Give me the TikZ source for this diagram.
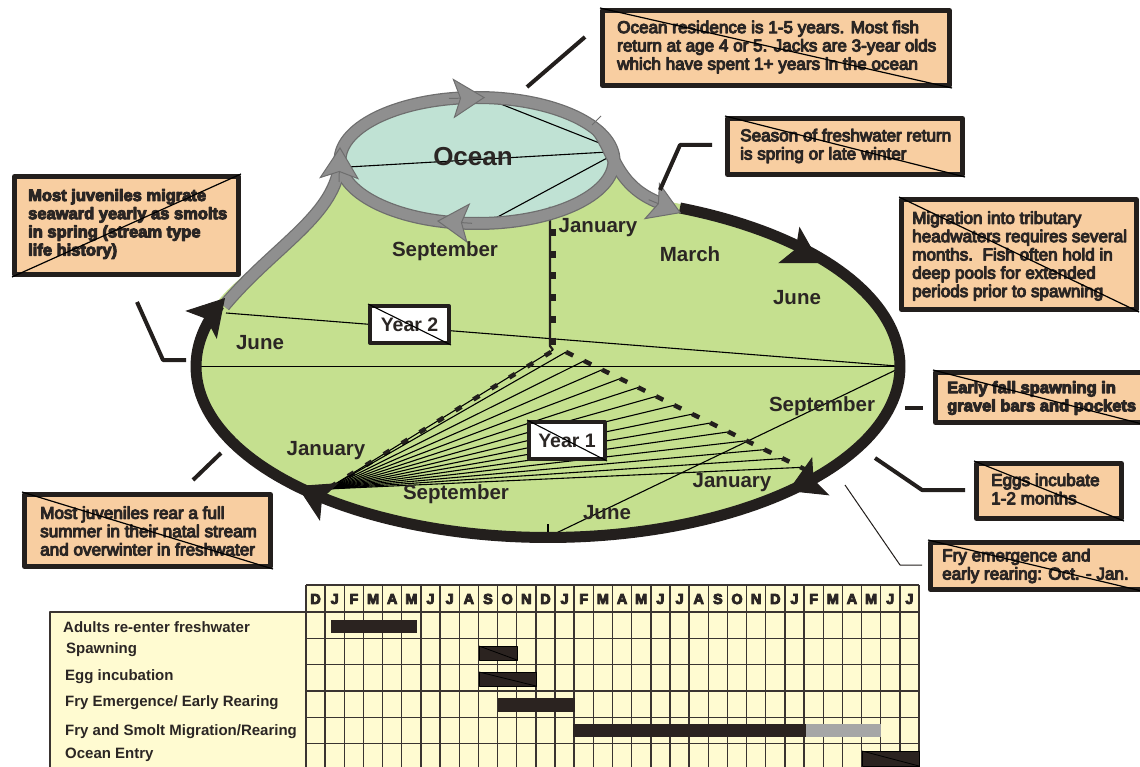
\documentclass[tikz,border=0pt]{standalone}
\usepackage{fontspec}
\setmainfont{Liberation Sans}
\newfontfamily\notefont{Liberation Sans}[FakeBold=6]
\newfontfamily\heavyfont{Liberation Sans Bold}[FakeBold=6]
\usetikzlibrary{arrows.meta}

\definecolor{meadow}{RGB}{197,224,143}
\definecolor{sea}{RGB}{192,226,212}
\definecolor{pathgrey}{RGB}{143,143,143}
\definecolor{pathgreyedge}{RGB}{110,110,110}
\definecolor{ink}{RGB}{35,31,29}
\definecolor{peach}{RGB}{248,206,161}
\definecolor{chart}{RGB}{255,251,209}
\definecolor{textink}{RGB}{43,38,36}
\definecolor{barink}{RGB}{43,35,32}
\definecolor{bargrey}{RGB}{166,166,166}
\definecolor{gridink}{RGB}{58,52,49}

\begin{document}
\begin{tikzpicture}[x=1pt, y=-1pt, line join=round,
  notebox/.style={draw=ink, line width=5pt, fill=peach, inner sep=0pt},
  notetext/.style={anchor=west, inner sep=0pt, align=left, text=textink,
    font=\notefont\fontsize{17.1}{18.3}\selectfont},
  heavytext/.style={notetext, font=\heavyfont\fontsize{16.5}{18.2}\selectfont},
  slash/.style={draw=black, line width=1.2pt},
  leader/.style={draw=ink, line width=4pt},
  thinleader/.style={draw=ink, line width=1pt},
  month/.style={font=\bfseries\fontsize{20.5}{22}\selectfont, text=textink, inner sep=0pt},
  yearbox/.style={draw=ink, line width=4pt, fill=white, inner sep=0pt,
    font=\bfseries\fontsize{19.5}{20}\selectfont, text=textink},
  fine/.style={draw=black, line width=1.1pt},
  ticks/.style={draw=ink, line width=4.5pt},
  blacktip/.style={draw=ink, line width=1pt, -{Stealth[length=36pt,width=42pt,inset=8pt,fill=ink]}},
  greytip/.style={draw=pathgreyedge, line width=1pt, -{Stealth[length=32pt,width=40pt,inset=7pt,fill=pathgrey]}},
  gridline/.style={draw=gridink, line width=1.4pt},
  hdr/.style={font=\heavyfont\fontsize{14.5}{15}\selectfont, text=textink, inner sep=0pt},
  rowlabel/.style={anchor=west, inner sep=0pt, font=\bfseries\fontsize{15}{16}\selectfont, text=textink},
  bar/.style={fill=barink, draw=black, line width=0.8pt}
]
\useasboundingbox (0,0) rectangle (1140,767);

% ---------- freshwater area: big ellipse plus the neck up to the ocean ----------
\fill[meadow] (548,366.5) ellipse [x radius=356pt, y radius=175pt];
\fill[meadow] (224,306) .. controls (275,245) and (337,215) .. (340,160.5)
  -- plot[domain=180:-28, samples=60, variable=\t] ({477+137*cos(\t)}, {160.5+63*sin(\t)})
  .. controls (614,152) and (616,186) .. (678,209) -- (548,366) -- cycle;
\fill[sea] (477,160.5) ellipse [x radius=137pt, y radius=63pt];

% ---------- construction lines ----------
\draw[fine] (483,97) -- (607,146);
\draw[fine] (348,167) -- (608,152);
\draw[fine] (479,227) -- (609,157);
\draw[fine] (478,217) -- (478,227);

\coordinate (rightcorner) at (903,366.5);
\draw[fine] (193,366.5) -- (rightcorner);
\draw[fine] (226,313) -- (rightcorner);
\draw[fine] (548,537) -- (rightcorner);
\draw[fine] (548,524) -- (548,537);

% year 2 divider with tick marks
\draw[draw=ink, line width=2.2pt] (550,207) -- (550,346) -- (553,350);
\draw[ticks, dash pattern=on 7pt off 14.7pt] (553.5,229) -- (553.5,350);

% year 1 fan
\coordinate (apex) at (327,489);
\draw[fine] (553,350) -- (apex);
\draw[ticks, dash pattern=on 7pt off 14pt] (551,352) -- (apex);
\foreach \k in {0,...,13}
  \draw[fine] (apex) -- ({566+18.046*\k},{352+8.877*\k});
\draw[ticks, dash pattern=on 8pt off 12.07pt] (566,352) -- (808.8,471.3);

% ---------- grey ocean loop ----------
\begin{scope}[draw=pathgreyedge, line width=13pt]
  \draw (477,160.5) ellipse [x radius=137pt, y radius=63pt];
  \draw (224,306) .. controls (275,245) and (337,215) .. (340,160.5);
  \draw (598,131) .. controls (614,152) and (616,186) .. (660,203);
\end{scope}
\begin{scope}[draw=pathgrey, line width=10.5pt]
  \draw (477,160.5) ellipse [x radius=137pt, y radius=63pt];
  \draw (224,306) .. controls (275,245) and (337,215) .. (340,160.5);
  \draw (598,131) .. controls (614,152) and (616,186) .. (660,203);
\end{scope}
\draw[pathgreyedge, line width=1pt] (592,125) -- (601,116);

% ---------- freshwater loop ----------
\draw[ink, line width=11pt] plot[domain=-68:201, samples=160, variable=\t]
  ({548+352*cos(\t)}, {366.5+171*sin(\t)});
\draw[blacktip] (789,245) -- (820,263);
\draw[blacktip] (819.0,477.0) -- (788.0,491.0);
\draw[blacktip] (327.5,501.1) -- (297.0,486.0);
\draw[blacktip] (202.4,323.4) -- (225.0,298.0);

\draw[greytip] (449,98.5) -- (485,97.5);
\draw[greytip] (472,223.3) -- (437,221);
\draw[greytip] (339,182) -- (340,147);
\draw[greytip] (648.7,199.7) -- (681,213);

% ---------- labels on the loops ----------
\node[font=\bfseries\fontsize{26}{28}\selectfont, text=textink, inner sep=0pt] (ocean) at (473,157) {Ocean};
\node[month] (janA) at (598,228) {January};
\node[month] (sepA) at (445,251) {September};
\node[month] (marA) at (690,254) {March};
\node[month] (junA) at (797,298) {June};
\node[month] (junB) at (260,343) {June};
\node[month] (sepB) at (822,406) {September};
\node[month] (janB) at (326,451) {January};
\node[month] (sepC) at (456,494) {September};
\node[month] (janC) at (732,483) {January};
\node[month] (junC) at (607,513) {June};

\node[yearbox, minimum width=79pt, minimum height=37pt] (year2) at (409.5,324.5) {Year 2};
\draw[fine] (year2.north west) -- (year2.south east);
\node[yearbox, minimum width=76pt, minimum height=37pt] (year1) at (567,440.5) {Year 1};
\draw[fine] (year1.north west) -- (year1.south east);

% ---------- notes ----------
\node[notebox, minimum width=347pt, minimum height=75pt] (oceannote) at (776,48) {};
\node[notetext] (oceantext) at (617,47) {Ocean residence is 1-5 years. Most fish\\return at age 4 or 5. Jacks are 3-year olds\\which have spent 1+ years in the ocean};
\draw[slash] (oceannote.north west) -- (oceannote.south east);

\node[notebox, minimum width=235pt, minimum height=56pt] (returnnote) at (845,146.5) {};
\node[notetext] (returntext) at (740,146) {Season of freshwater return\\is spring or late winter};
\draw[slash] (returnnote.north west) -- (returnnote.south east);

\node[notebox, minimum width=235pt, minimum height=110pt] (headnote) at (1019,254.5) {};
\node[notetext] (headtext) at (912,256) {Migration into tributary\\headwaters requires several\\months.\ \ Fish often hold in\\deep pools for extended\\periods prior to spawning};
\draw[slash] (headnote.north west) -- (headnote.south east);

\node[notebox, minimum width=208pt, minimum height=50pt] (spawnnote) at (1039.5,397.5) {};
\node[heavytext] (spawntext) at (947,398) {Early fall spawning in\\gravel bars and pockets};
\draw[slash] (spawnnote.north west) -- (spawnnote.south east);

\node[notebox, minimum width=145pt, minimum height=55pt] (eggnote) at (1049,491) {};
\node[notetext] (eggtext) at (991,489) {Eggs incubate\\1-2 months};
\draw[slash] (eggnote.north west) -- (eggnote.south east);

\node[notebox, minimum width=213pt, minimum height=47pt] (frynote) at (1037,566) {};
\node[notetext] (frytext) at (942,566) {Fry emergence and\\early rearing: Oct. - Jan.};
\draw[slash] (frynote.north west) -- (frynote.south east);

\node[notebox, minimum width=224pt, minimum height=98pt] (smoltnote) at (126.5,225.5) {};
\node[heavytext] (smolttext) at (28,224) {Most juveniles migrate\\seaward yearly as smolts\\in spring (stream type\\life history)};
\draw[slash] (smoltnote.south west) -- (smoltnote.north east);

\node[notebox, minimum width=246pt, minimum height=72pt] (rearnote) at (147.5,530.5) {};
\node[notetext] (reartext) at (40,531) {Most juveniles rear a full\\summer in their natal stream\\and overwinter in freshwater};
\draw[slash] (rearnote.north west) -- (rearnote.south east);

% ---------- leaders ----------
\coordinate (l1a) at (527,87);  \coordinate (l1b) at (585,37);
\draw[leader] (l1a) -- (l1b);
\coordinate (l2a) at (660,190); \coordinate (l2b) at (680,145); \coordinate (l2c) at (712,145);
\draw[leader] (l2a) -- (l2b) -- (l2c);
\coordinate (l3a) at (137,302); \coordinate (l3b) at (163,360); \coordinate (l3c) at (186,360);
\draw[leader] (l3a) -- (l3b) -- (l3c);
\coordinate (l4a) at (905,408); \coordinate (l4b) at (923,408);
\draw[leader] (l4a) -- (l4b);
\coordinate (l5a) at (875,458); \coordinate (l5b) at (922,490); \coordinate (l5c) at (965,490);
\draw[leader] (l5a) -- (l5b) -- (l5c);
\coordinate (l6a) at (845,485); \coordinate (l6b) at (900,565); \coordinate (l6c) at (922,565);
\draw[thinleader] (l6a) -- (l6b) -- (l6c);
\coordinate (l7a) at (193,480); \coordinate (l7b) at (221,453);
\draw[leader] (l7a) -- (l7b);

% ---------- timing chart ----------
\fill[chart] (306,585) rectangle (919,772);
\fill[chart] (50,612) rectangle (306,772);
\foreach \i in {0,...,32}
  \draw[gridline] ({306+19.156*\i},585) -- ({306+19.156*\i},772);
\draw[gridline] (306,585) -- (919,585);
\foreach \y in {612,638.3,664.7,691,717.3,743.6}
  \draw[gridline] (306,\y) -- (919,\y);
\draw[gridline] (50,772) -- (50,612) -- (306,612);
\foreach \m [count=\i from 0] in {D,J,F,M,A,M,J,J,A,S,O,N,D,J,F,M,A,M,J,J,A,S,O,N,D,J,F,M,A,M,J,J}
  \node[hdr] (hd\i) at ({306+19.156*(\i+0.5)},599) {\m};

\node[rowlabel] (rowA) at (63,627) {Adults re-enter freshwater};
\node[rowlabel] (rowB) at (66,650) {Spawning};
\node[rowlabel] (rowC) at (65,677) {Egg incubation};
\node[rowlabel] (rowD) at (65,703) {Fry Emergence/ Early Rearing};
\node[rowlabel] (rowE) at (65,732) {Fry and Smolt Migration/Rearing};
\node[rowlabel] (rowF) at (65,755) {Ocean Entry};

\fill[barink] (331,620) rectangle (417,633);
\draw[bar] (479,646) rectangle (517,660);
\draw[draw=black, line width=0.8pt] (479,646) -- (517,660);
\draw[bar] (479,672) rectangle (536,686);
\draw[draw=black, line width=0.8pt] (479,672) -- (536,686);
\fill[barink] (498,698) rectangle (575,712);
\fill[barink] (573,724) rectangle (806,737);
\fill[bargrey] (806,724) rectangle (881,737);
\draw[bar] (862,751) rectangle (919,766);
\draw[draw=black, line width=0.8pt] (862,751) -- (919,766);
\end{tikzpicture}
\end{document}
